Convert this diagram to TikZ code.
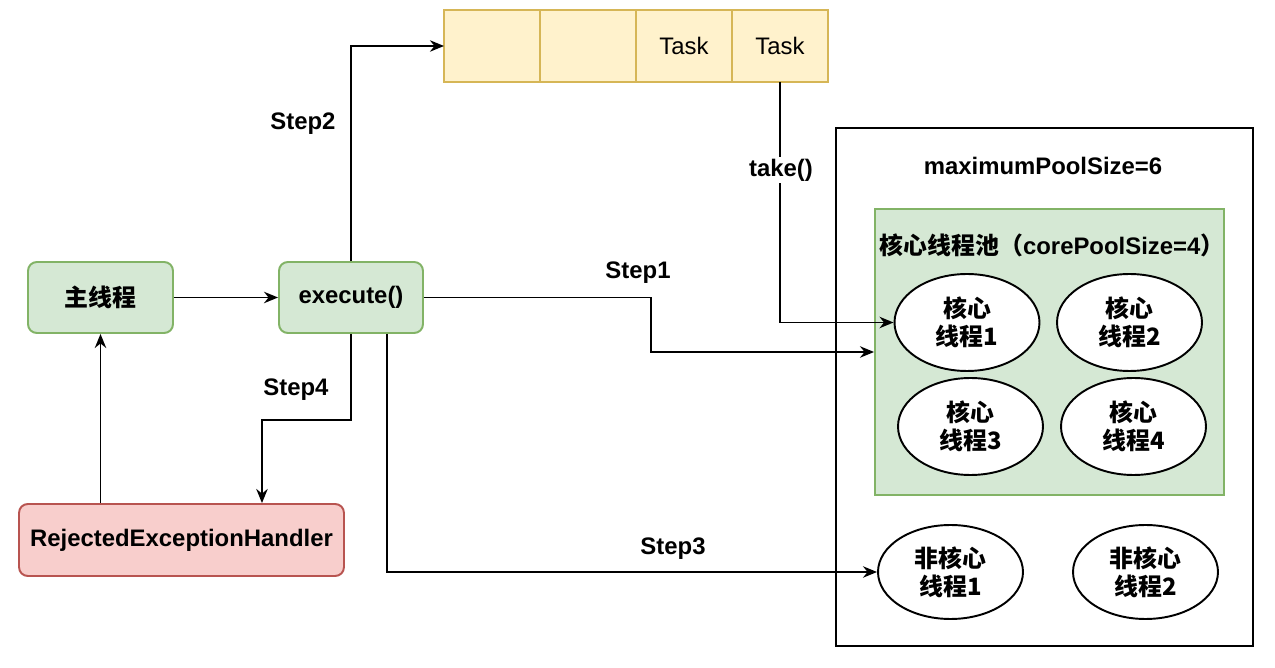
\documentclass[tikz,border=0pt]{standalone}
\usepackage{fontspec}
\setmainfont{Liberation Sans}
\newfontfamily\cjk{Noto Sans CJK SC}
\definecolor{greenbg}{HTML}{D5E8D4}
\definecolor{greenln}{HTML}{82B366}
\definecolor{redbg}{HTML}{F8CECC}
\definecolor{redln}{HTML}{B85450}
\definecolor{yellowbg}{HTML}{FFF2CC}
\definecolor{yellowln}{HTML}{D6B656}
\usetikzlibrary{arrows.meta,positioning,shapes.geometric}

\begin{document}
\begin{tikzpicture}[x=0.02cm, y=-0.02cm,
      every node/.style={font=\fontsize{13.6}{16}\selectfont\bfseries, inner sep=0pt},
      box/.style={draw=greenln, fill=greenbg, line width=1.1pt, rounded corners=5pt,
                  minimum width=2.9cm, minimum height=1.42cm, align=center},
      rej/.style={draw=redln, fill=redbg, line width=1.1pt, rounded corners=5pt,
                  minimum width=6.5cm, minimum height=1.44cm},
      cell/.style={draw=yellowln, fill=yellowbg, line width=1.1pt, outer sep=0pt,
                   minimum width=1.92cm, minimum height=1.44cm,
                   font=\fontsize{13.6}{16}\selectfont},
      thread/.style={draw, ellipse, fill=white, line width=1.1pt,
                     minimum width=2.9cm, minimum height=1.94cm, align=center},
      lbl/.style={fill=white, inner sep=1pt},
      arr/.style={-{Stealth[length=8pt,width=6.5pt]}, line width=1.1pt}
  ]
    \useasboundingbox (0,0) rectangle (1275,668);
    % left side
    \node[box] (main) at (100.5,297.5) {\cjk 主线程};
    \node[box, minimum width=2.88cm] (exec) at (351,297.5) {execute()};
    \node[rej] (rej) at (181.5,540) {RejectedExceptionHandler};
    % queue
    \node[cell] (q1) at (492,46) {};
    \node[cell, right=0pt of q1] (q2) {};
    \node[cell, right=0pt of q2] (q3) {Task};
    \node[cell, right=0pt of q3] (q4) {Task};
    % thread pool
    \node[draw, line width=1.1pt, minimum width=8.34cm, minimum height=10.36cm] (pool) at (1044.5,387) {};
    \node (max) at (1043,166) {maximumPoolSize=6};
    \node[draw=greenln, fill=greenbg, line width=1.1pt, minimum width=6.98cm, minimum height=5.72cm] (core) at (1049.5,352) {};
    \node (coretitle) at (1052,245) {{\cjk 核心线程池（}corePoolSize=4{\cjk ）}};
    \node[thread] (c1) at (967,322.5) {\cjk 核心\\\cjk 线程1};
    \node[thread] (c2) at (1129.5,322.5) {\cjk 核心\\\cjk 线程2};
    \node[thread] (c3) at (970.5,426.5) {\cjk 核心\\\cjk 线程3};
    \node[thread] (c4) at (1133.5,426.5) {\cjk 核心\\\cjk 线程4};
    \node[thread, minimum height=1.88cm] (n1) at (950.5,572) {\cjk 非核心\\\cjk 线程1};
    \node[thread, minimum height=1.88cm] (n2) at (1145.5,572) {\cjk 非核心\\\cjk 线程2};
    % connectors
    \draw[arr] (main) -- (exec);
    \draw[arr] (exec.north) |- (q1.west);
    \draw[arr] (q4.south) |- (c1.west);
    \draw[arr] (exec.east) -- ++(227,0) |- (core.west);
    \draw[arr] (exec.south) -- ++(0,86) -| ([xshift=1.61cm]rej.north);
    \draw[arr] ([xshift=0.72cm]exec.south) |- (n1.west);
    \draw[arr] (main.south |- rej.north) -- (main.south);
    % labels
    \node[lbl] (take) at (781,170) {take()};
    \node (s1) at (638,273) {Step1};
    \node (s2) at (303,124) {Step2};
    \node (s3) at (673,549) {Step3};
    \node (s4) at (296,390) {Step4};
\end{tikzpicture}
\end{document}
